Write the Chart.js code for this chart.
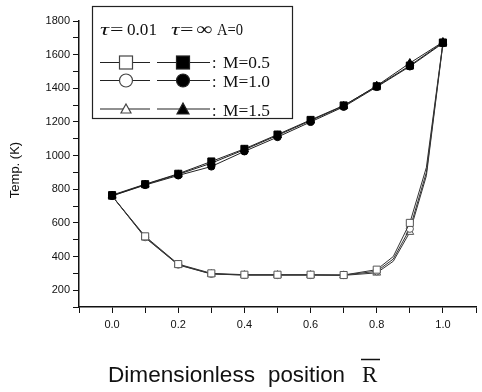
<!DOCTYPE html>
<html>
<head>
<meta charset="utf-8">
<script src="https://cdn.jsdelivr.net/npm/chart.js@4.4.0/dist/chart.umd.min.js"></script>
<style>
  body { margin: 0; background: #fff; }
  #wrap { position: relative; width: 482px; height: 392px; }
  #chart { position: absolute; left: 0; top: 0; }
  #over { position: absolute; left: 0; top: 0; pointer-events: none; }
</style>
</head>
<body>
<div id="wrap">
  <canvas id="chart" width="482" height="392"></canvas>
  <svg id="over" width="482" height="392" xmlns="http://www.w3.org/2000/svg">
    <!-- legend box -->
    <rect x="92.5" y="6.5" width="200" height="112" fill="#fff" stroke="#222" stroke-width="1.2"/>
    <g font-family="Liberation Serif, DejaVu Serif, serif" fill="#111">
      <text x="100" y="34.5" font-size="16" font-style="italic" textLength="9" lengthAdjust="spacingAndGlyphs">τ</text>
      <text x="110" y="34.5" font-size="16" textLength="13.5" lengthAdjust="spacingAndGlyphs">=</text>
      <text x="127" y="34.5" font-size="16" textLength="30" lengthAdjust="spacingAndGlyphs">0.01</text>
      <text x="171" y="34.5" font-size="16" font-style="italic" textLength="8.5" lengthAdjust="spacingAndGlyphs">τ</text>
      <text x="180" y="34.5" font-size="16" textLength="13.5" lengthAdjust="spacingAndGlyphs">=</text>
      <text x="196" y="34.5" font-size="18" textLength="16" lengthAdjust="spacingAndGlyphs">∞</text>
      <text x="217" y="34.5" font-size="16.5" textLength="26" lengthAdjust="spacingAndGlyphs">A=0</text>
      <text x="212" y="68" font-size="16">:</text>
      <text x="223" y="68" font-size="16" textLength="47" lengthAdjust="spacingAndGlyphs">M=0.5</text>
      <text x="212" y="87" font-size="16">:</text>
      <text x="223" y="87" font-size="16" textLength="47" lengthAdjust="spacingAndGlyphs">M=1.0</text>
      <text x="212" y="116" font-size="16">:</text>
      <text x="223" y="116" font-size="16" textLength="47" lengthAdjust="spacingAndGlyphs">M=1.5</text>
    </g>
    <g stroke="#222" stroke-width="1.2">
      <line x1="100" y1="62.5" x2="150" y2="62.5"/>
      <line x1="157" y1="62.5" x2="210" y2="62.5"/>
      <line x1="100" y1="80.5" x2="150" y2="80.5"/>
      <line x1="157" y1="80.5" x2="210" y2="80.5"/>
      <line x1="100" y1="109" x2="150" y2="109"/>
      <line x1="157" y1="109" x2="210" y2="109"/>
      <rect x="119.5" y="56" width="13" height="13" fill="#fff" stroke="#444"/>
      <rect x="176.5" y="56" width="13" height="13" fill="#000"/>
      <circle cx="126" cy="80.5" r="6.5" fill="#fff" stroke="#444"/>
      <circle cx="183" cy="80.5" r="6.5" fill="#000"/>
      <polygon points="126,104 131,113 121,113" fill="#fff" stroke="#444"/>
      <polygon points="183,103 189,114 177,114" fill="#000"/>
    </g>
    <!-- axis titles -->
    <text x="19" y="170" transform="rotate(-90 19 170)" text-anchor="middle" font-family="Liberation Sans, Arial, sans-serif" font-size="13" fill="#111">Temp. (K)</text>
    <g font-family="Liberation Sans, Arial, sans-serif" font-size="22.5" fill="#111">
      <text x="108" y="382" textLength="147" lengthAdjust="spacingAndGlyphs">Dimensionless</text>
      <text x="268" y="382" textLength="77" lengthAdjust="spacingAndGlyphs">position</text>
    </g>
    <text x="362" y="382" font-family="Liberation Serif, DejaVu Serif, serif" font-size="23" fill="#111">R</text>
    <line x1="361" y1="359.5" x2="380" y2="359.5" stroke="#111" stroke-width="1.5"/>
  </svg>
</div>
<script>
// positions along the radius
const xHot = [0, 0.1, 0.2, 0.3, 0.4, 0.5, 0.6, 0.7, 0.8, 0.9, 1.0];
const xCold = [0, 0.1, 0.2, 0.3, 0.4, 0.5, 0.6, 0.7, 0.8, 0.85, 0.9, 0.95, 1.0];

// tau = infinity (filled markers)
const hotM05 = [765, 830, 892, 965, 1040, 1125, 1212, 1298, 1412, 1535, 1672];
const hotM10 = [760, 825, 882, 935, 1025, 1110, 1200, 1290, 1408, 1530, 1668];
const hotM15 = [762, 828, 888, 955, 1035, 1120, 1208, 1295, 1415, 1550, 1675];

// tau = 0.01 (open markers)
const coldM05 = [760, 520, 355, 300, 292, 292, 292, 290, 322, 400, 600, 930, 1670];
const coldM10 = [760, 515, 352, 297, 290, 290, 290, 290, 312, 385, 565, 900, 1668];
const coldM15 = [760, 512, 350, 296, 290, 290, 290, 288, 303, 372, 545, 880, 1665];

function pts(xs, ys) {
  return xs.map((x, i) => ({ x: x, y: ys[i] }));
}
// no marker on the in-between points (0.85, 0.95)
function radii(xs, r) {
  return xs.map(x => (Math.round(x * 100) % 10 === 0 ? r : 0));
}

function hot(data, style, r) {
  return {
    data: pts(xHot, data),
    borderColor: '#222',
    borderWidth: 1,
    pointStyle: style,
    pointRadius: r,
    pointBackgroundColor: '#000',
    pointBorderColor: '#000',
    pointBorderWidth: 1,
  };
}
function cold(data, style, r) {
  return {
    data: pts(xCold, data),
    borderColor: '#333',
    borderWidth: 1,
    pointStyle: style,
    pointRadius: radii(xCold, r),
    pointBackgroundColor: '#fff',
    pointBorderColor: '#555',
    pointBorderWidth: 1,
  };
}

new Chart('chart', {
  type: 'line',
  data: {
    datasets: [
      hot(hotM05, 'rect', 5),
      hot(hotM10, 'circle', 3.6),
      hot(hotM15, 'triangle', 4.5),
      cold(coldM05, 'rect', 5),
      cold(coldM10, 'circle', 3.6),
      cold(coldM15, 'triangle', 4.5),
    ],
  },
  options: {
    responsive: false,
    animation: false,
    layout: { padding: { top: 21, right: 0, bottom: 0, left: 0 } },
    plugins: { legend: { display: false }, tooltip: { enabled: false } },
    scales: {
      x: {
        type: 'linear',
        min: -0.1,
        max: 1.1,
        afterFit: s => { s.height = 85; },
        border: { color: '#111', width: 1.5 },
        grid: { drawOnChartArea: false, tickLength: 6, tickColor: '#111' },
        ticks: {
          stepSize: 0.1,
          padding: 5,
          color: '#111',
          font: { family: 'Liberation Sans', size: 11 },
          maxRotation: 0,
          autoSkip: false,
          callback: v => {
            const k = Math.round(v * 10);
            return (k < 0 || k > 10 || k % 2) ? '' : (k / 10).toFixed(1);
          },
        },
      },
      y: {
        min: 100,
        max: 1800,
        afterFit: s => { s.width = 79; },
        border: { color: '#111', width: 1.5 },
        grid: { drawOnChartArea: false, tickLength: 6, tickColor: '#111' },
        ticks: {
          stepSize: 100,
          padding: 3,
          color: '#111',
          font: { family: 'Liberation Sans', size: 11 },
          autoSkip: false,
          callback: v => (v % 200 === 0 ? String(v) : ''),
        },
      },
    },
  },
});
</script>
</body>
</html>
